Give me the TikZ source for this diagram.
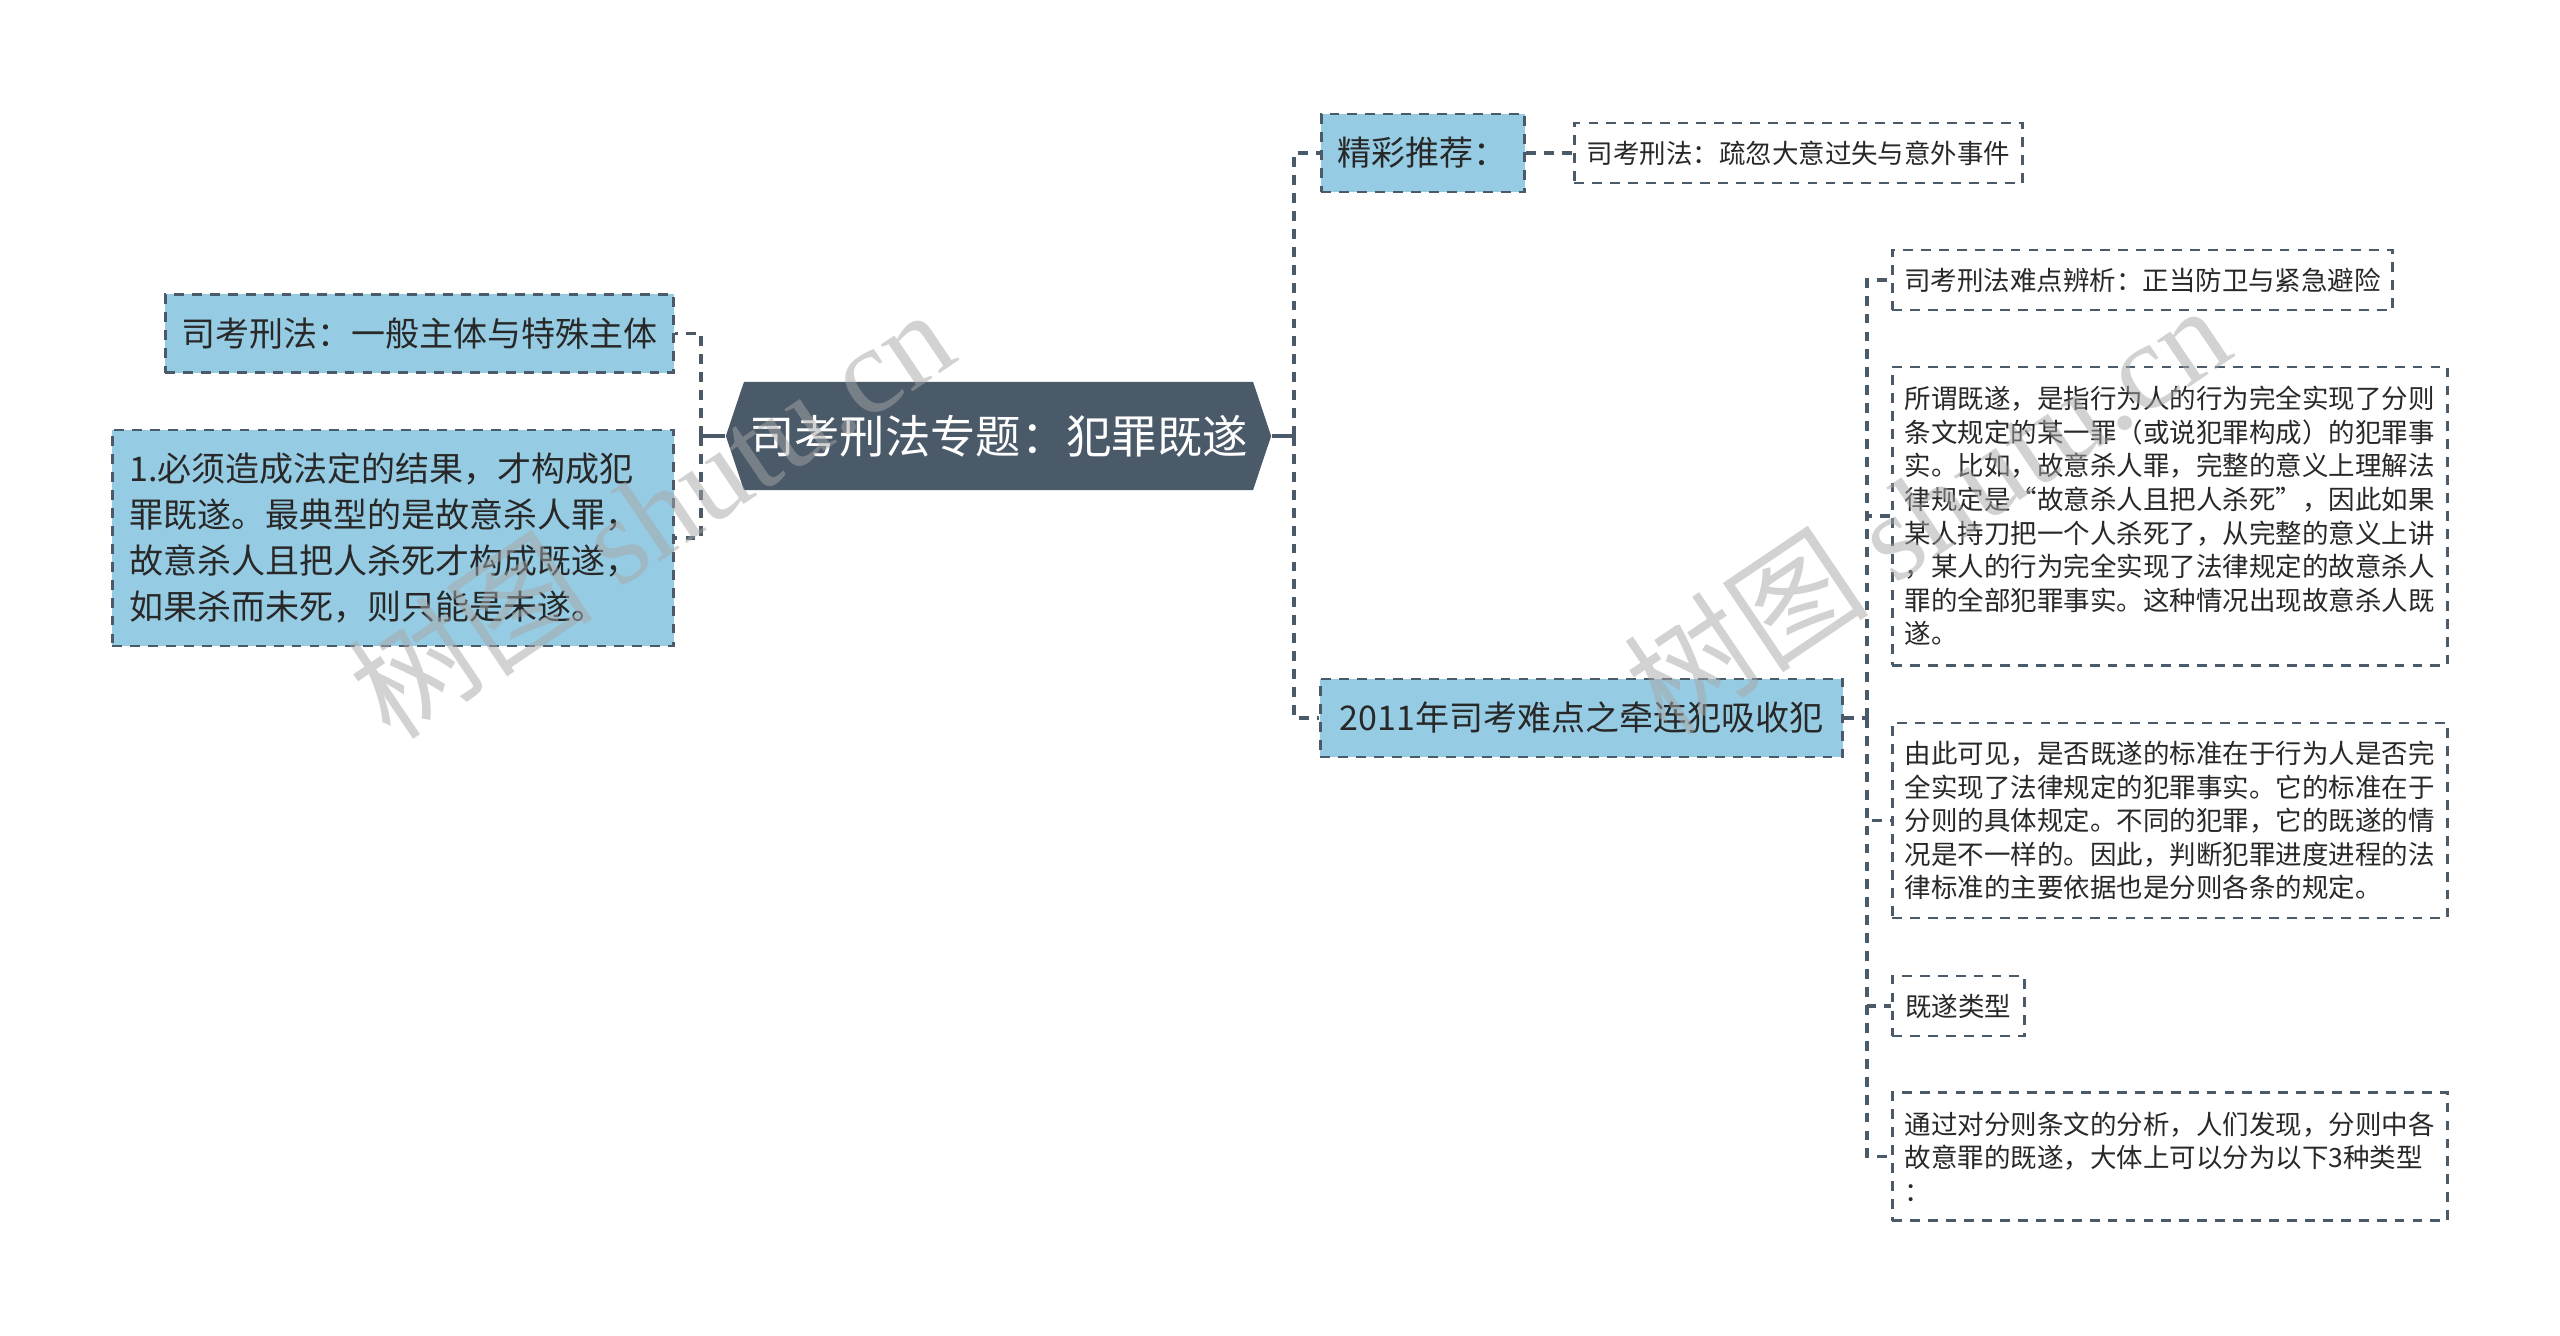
\documentclass[tikz,border=0pt]{standalone}
\usepackage{fontspec}
\setmainfont{Noto Sans CJK SC}
\newfontfamily\wmfont{Liberation Serif}
\usetikzlibrary{shapes.symbols}
\definecolor{rootc}{RGB}{75,90,105}
\definecolor{leafc}{RGB}{150,204,227}
\definecolor{linec}{RGB}{75,90,105}
\definecolor{txtc}{RGB}{40,40,40}

\begin{document}
\begin{tikzpicture}[x=0.01cm, y=-0.01cm,
  topic/.style={signal, signal to=west and east, signal pointer angle=143, fill=rootc, text=white,
    minimum width=5.45cm, minimum height=1.08cm, inner sep=0pt, font=\fontsize{12.9pt}{15pt}\selectfont},
  box/.style={draw=linec, line width=0.8pt, dash pattern=on 2.8pt off 2.3pt, text=txtc, inner sep=0pt},
  sub/.style={box, fill=leafc, minimum height=0.78cm, font=\fontsize{9.67pt}{13.1pt}\selectfont},
  note/.style={box, fill=white, minimum height=0.6cm, font=\fontsize{7.53pt}{9.56pt}\selectfont},
  para/.style={note, text width=5.3cm, inner xsep=0.125cm, align=left},
  link/.style={draw=linec, line width=0.9pt, dash pattern=on 2.8pt off 2.3pt},
  wm/.style={text=gray!70, opacity=0.5, font=\fontsize{35pt}{35pt}\selectfont, rotate=34}]
\useasboundingbox (0,0) rectangle (2560,1335);

\node[topic] (root) at (998.5,436) {司考刑法专题：犯罪既遂};

\node[sub, anchor=east, minimum width=5.08cm] (ybzt) at (675,333.5) {司考刑法：一般主体与特殊主体};
\node[sub, anchor=east, minimum height=2.16cm, text width=5.27cm, inner xsep=0.17cm, align=left] (jsjg) at (675,538) {1.必须造成法定的结果，才构成犯\\
罪既遂。最典型的是故意杀人罪，\\
故意杀人且把人杀死才构成既遂，\\
如果杀而未死，则只能是未遂。};

\node[sub, anchor=west, minimum width=2.03cm] (jctj) at (1320,153) {精彩推荐：};
\node[note, anchor=west, minimum width=4.48cm] (sh) at (1573,153) {司考刑法：疏忽大意过失与意外事件};
\node[sub, anchor=west, minimum width=5.22cm] (qlf) at (1319,718) {2011年司考难点之牵连犯吸收犯};

\node[note, anchor=west, minimum width=5cm] (fw) at (1891,280) {司考刑法难点辨析：正当防卫与紧急避险};
\node[para, anchor=west, minimum height=2.98cm] (jsdy) at (1891,516) {所谓既遂，是指行为人的行为完全实现了分则\\
条文规定的某一罪（或说犯罪构成）的犯罪事\\
实。比如，故意杀人罪，完整的意义上理解法\\
律规定是“故意杀人且把人杀死”，因此如果\\
某人持刀把一个人杀死了，从完整的意义上讲\\
，某人的行为完全实现了法律规定的故意杀人\\
罪的全部犯罪事实。这种情况出现故意杀人既\\
遂。};
\node[para, anchor=west, minimum height=1.95cm] (jsbz) at (1891,820.5) {由此可见，是否既遂的标准在于行为人是否完\\
全实现了法律规定的犯罪事实。它的标准在于\\
分则的具体规定。不同的犯罪，它的既遂的情\\
况是不一样的。因此，判断犯罪进度进程的法\\
律标准的主要依据也是分则各条的规定。};
\node[note, anchor=west, minimum width=1.32cm] (jslx) at (1891,1006) {既遂类型};
\node[para, anchor=west, minimum height=1.28cm] (fzfx) at (1891,1156.7) {通过对分则条文的分析，人们发现，分则中各\\
故意罪的既遂，大体上可以分为以下3种类型\\
：};

\coordinate (lj) at (701,436);
\coordinate (rj) at (1294,436);
\coordinate (qj) at (1867,718);
\draw[linec, line width=0.9pt] (root.west) -- (lj);
\draw[linec, line width=0.9pt] (root.east) -- (rj);
\foreach \n in {ybzt,jsjg} \draw[link] (lj) |- (\n.east);
\foreach \n in {jctj,qlf} \draw[link] (rj) |- (\n.west);
\draw[link] (jctj) -- (sh);
\draw[link] (qlf.east) -- (qj);
\foreach \n in {fw,jsdy,jsbz,jslx,fzfx} \draw[link] (qj) |- (\n.west);

\node[wm] (wm1) at (650,512) {树图 {\wmfont shutu.cn}};
\node[wm] (wm2) at (1926,508) {树图 {\wmfont shutu.cn}};
\end{tikzpicture}
\end{document}
